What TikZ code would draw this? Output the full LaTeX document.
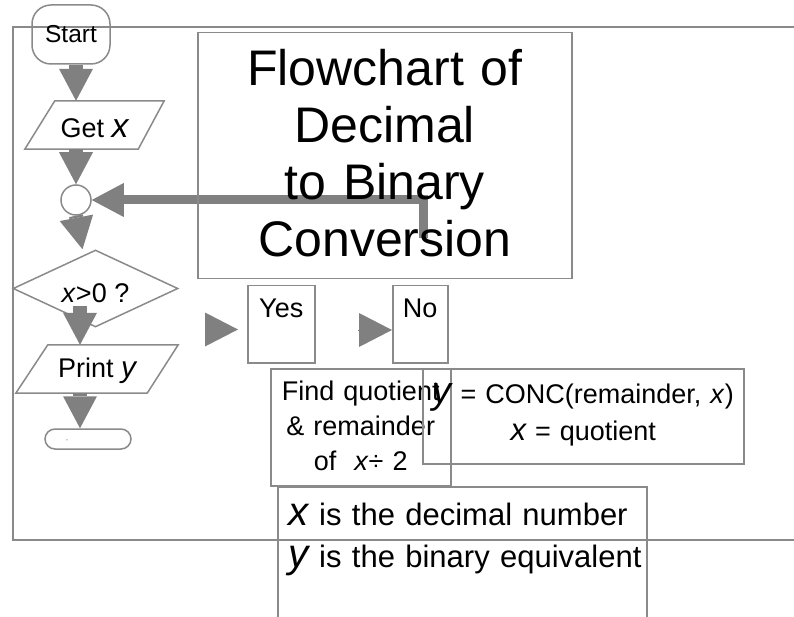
\documentclass[tikz,border=0pt]{standalone}
\usepackage{fontspec}
\setmainfont{Liberation Sans}
\usepackage{graphicx}
\usepackage{xcolor}
\usepackage{tikz}
\usetikzlibrary{positioning,arrows.meta,shapes.geometric,calc}
\definecolor{lgray}{HTML}{8A8A8A}
\definecolor{agray}{HTML}{808080}
\newcommand{\bv}[2]{\scalebox{#1}{\itshape #2}}

\begin{document}
\begin{tikzpicture}[x=1pt,y=-1pt]
  \tikzset{
    frm/.style={draw=lgray,line width=1.5pt},
    term/.style={frm,rectangle,inner sep=0pt,font=\fontsize{24.5}{28}\selectfont},
    iob/.style={inner sep=0pt,minimum height=48pt,text height=24pt,
                font=\fontsize{27}{32}\selectfont},
    decn/.style={frm,diamond,aspect=2.1,inner sep=0pt,minimum width=165pt,
                 minimum height=77pt,text height=29pt,font=\fontsize{27}{32}\selectfont},
    txtb/.style={frm,rectangle,anchor=north west,inner sep=0pt,align=center},
    flow/.style={draw=agray,line width=14pt,
                 -{Triangle[length=32pt,width=34pt,line width=0pt]}},
    pointer/.style={draw=agray,line width=1pt,
                    -{Triangle[length=33pt,width=34pt,line width=0pt]}}
  }
  \useasboundingbox (0,0) rectangle (794,617);
  \clip (0,0) rectangle (794,617);
  % outer frame
  \draw[frm] (810,27) -| (13,540) -- (810,540);

  % Left: the flow
  \node[term,rounded corners=19pt,minimum width=78pt,minimum height=59pt] (start) at (71,34.5) {Start};
  \node[iob,minimum width=139pt,text height=26pt] (getx) at (94.5,125) {Get \bv{1.25}{x}};
  \draw[frm] ($(getx.north west)+(30,0)$) -- (getx.north east)
    -- ($(getx.south east)+(-26,0)$) -- (getx.south west) -- cycle;
  \node[frm,circle,minimum size=30pt,inner sep=0pt] (circ) at (76,200) {};
  \node[decn] (test) at (95.5,288.5) {\textit{x}>0 ?};
  \node[iob,minimum width=162pt] (prt) at (97,369) {Print \bv{1.1}{y}};
  \draw[frm] ($(prt.north west)+(32,0)$) -- (prt.north east)
    -- ($(prt.south east)+(-31,0)$) -- (prt.south west) -- cycle;
  \node[term,rounded corners=10pt,minimum width=86pt,minimum height=20pt] (stop) at (88,439) {};
  \node[font=\fontsize{8}{8}\selectfont,inner sep=0pt,text=lgray] (stopl) at (67,441) {-};

  % Arrows
  \coordinate (d1) at (80,306);
  \draw[flow] (start.south -| circ.north) -- (getx.north -| circ.north);
  \draw[flow] (getx.south -| circ.north) -- (circ.north);
  \draw[flow] (circ.south) -- ([xshift=-13pt]test.north);
  \draw[flow] (d1) -- (d1 |- prt.north);
  \draw[flow] (prt.south -| d1) -- (stop.north -| d1);
  % loop back
  \coordinate (lp) at (423,238);
  \draw[flow,line width=9pt] (lp) |- (circ.east);

  % Right: title and boxes
  \node[txtb,text width=374pt,text height=53pt,text depth=193pt,
        font=\fontsize{50}{57}\selectfont] (title) at (197,32)
    {Flowchart of\\Decimal\\to Binary\\Conversion};
  \node[txtb,text width=67pt,text height=32pt,text depth=45pt,
        font=\fontsize{27}{32}\selectfont] (yes) at (247,285) {Yes};
  \node[txtb,text width=55pt,text height=32pt,text depth=45pt,
        font=\fontsize{27}{32}\selectfont] (no) at (392,285) {No};
  \node[txtb,text width=180pt,text height=32pt,text depth=85pt,
        font=\fontsize{27}{35}\selectfont] (quot) at (270,368)
    {Find quotient\\\& remainder\\of~~\textit{x}÷ 2};
  \node[txtb,text width=321pt,text height=35pt,text depth=60pt,
        font=\fontsize{27}{37}\selectfont] (conc) at (422,368)
    {\bv{1.4}{y} = CONC(remainder, \textit{x})\\\bv{1.15}{x} = quotient};
  \node[txtb,align=left,inner xsep=11pt,text width=347pt,text height=39pt,
        text depth=125pt,font=\fontsize{31}{42}\selectfont] (note) at (277,486)
    {\mbox{\bv{1.3}{x} is the decimal number}\\\mbox{\bv{1.3}{y} is the binary equivalent}};

  % Pointers to Yes / No
  \coordinate (ya) at (205,329.5);
  \coordinate (yb) at (238,329.5);
  \draw[pointer] (ya) -- (yb);
  \coordinate (na) at (358,330);
  \draw[pointer] (na) -- (no.west |- na);
\end{tikzpicture}
\end{document}
